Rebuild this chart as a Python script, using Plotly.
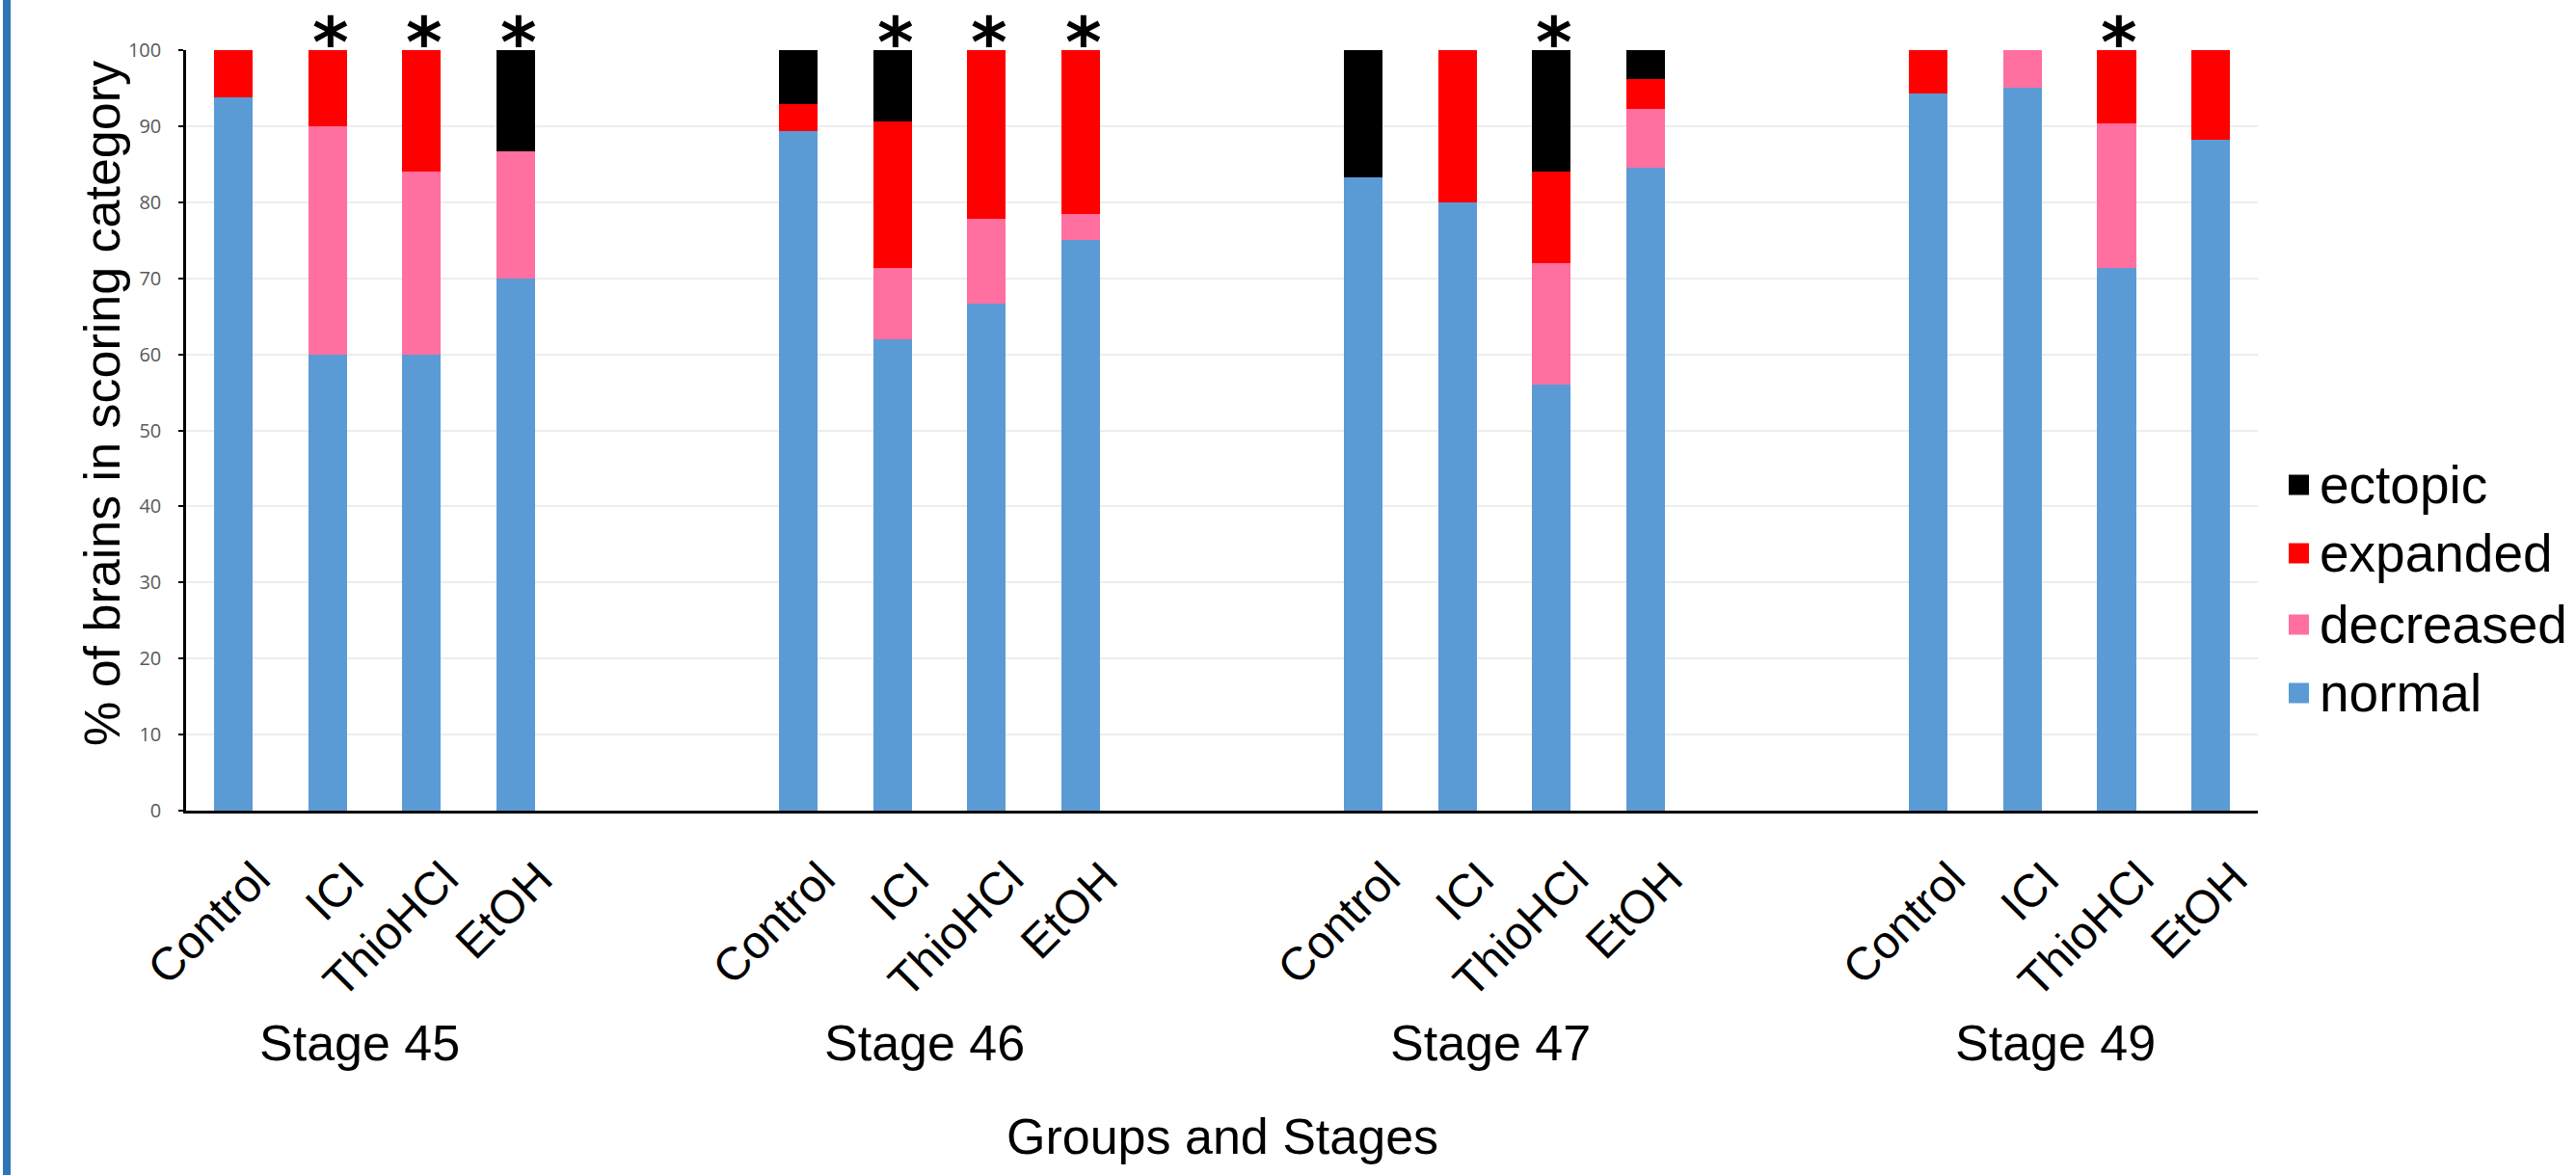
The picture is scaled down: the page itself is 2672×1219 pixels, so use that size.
import plotly.graph_objects as go

# ---- data -------------------------------------------------------------
stages = ["Stage 45", "Stage 46", "Stage 47", "Stage 49"]
groups = ["Control", "ICI", "ThioHCl", "EtOH"]

# percent of brains in each scoring category, per stage, in group order
normal = [
    [93.75, 60.0, 60.0, 70.0],
    [89.3, 62.0, 66.7, 75.0],
    [83.3, 80.0, 56.0, 84.6],
    [94.3, 95.0, 71.4, 88.2],
]
decreased = [
    [0.0, 30.0, 24.0, 16.7],
    [0.0, 9.4, 11.1, 3.5],
    [0.0, 0.0, 16.0, 7.7],
    [0.0, 5.0, 19.0, 0.0],
]
expanded = [
    [6.25, 10.0, 16.0, 0.0],
    [3.6, 19.2, 22.2, 21.5],
    [0.0, 20.0, 12.0, 3.85],
    [5.7, 0.0, 9.6, 11.8],
]
ectopic = [
    [0.0, 0.0, 0.0, 13.3],
    [7.1, 9.4, 0.0, 0.0],
    [16.7, 0.0, 16.0, 3.85],
    [0.0, 0.0, 0.0, 0.0],
]
# significance markers (asterisk above bar)
significant = [
    [False, True, True, True],
    [False, True, True, True],
    [False, False, True, False],
    [False, False, True, False],
]

series = [
    ("normal", normal, "#5B9BD5"),
    ("decreased", decreased, "#FF6FA0"),
    ("expanded", expanded, "#FF0000"),
    ("ectopic", ectopic, "#000000"),
]

# ---- geometry ---------------------------------------------------------
FIG_W, FIG_H = 2672, 1219
L, R, T, B = 193, 2342, 52, 841
PW, PH = R - L, B - T
SLOTS_PER_STAGE = len(groups) + 2  # two empty slots between stages


def px_x(px):
    return (px - L) / PW


def px_y(py):
    return (B - py) / PH


positions = []
labels = []
for si, st in enumerate(stages):
    for gi, g in enumerate(groups):
        positions.append(si * SLOTS_PER_STAGE + gi)
        labels.append(g)


def flat(table):
    return [v for row in table for v in row]


fig = go.Figure()
for name, table, color in series:
    fig.add_trace(go.Bar(
        x=positions, y=flat(table), name=name,
        marker=dict(color=color, line=dict(width=0)),
        width=0.41, showlegend=False,
    ))

annotations = []
# asterisks
for x, sig in zip(positions, flat(significant)):
    if sig:
        annotations.append(dict(
            x=x, y=px_y(0), xref="x", yref="paper", text="*", showarrow=False,
            font=dict(family="DejaVu Sans", size=72, color="black", weight=700),
            yanchor="top", xanchor="center", xshift=3,
        ))

# stage labels under each group
for si, st in enumerate(stages):
    cx = si * SLOTS_PER_STAGE + (len(groups) - 1) / 2
    annotations.append(dict(
        x=cx, y=px_y(1082), xref="x", yref="paper", text=st, showarrow=False,
        font=dict(family="Liberation Sans", size=52, color="black"),
        yanchor="middle", xanchor="center", xshift=-15,
    ))

# legend (top entry is the top of the stack)
legend_rows = [503, 574, 648, 719]
shapes = []
for (name, _, color), yc in zip(reversed(series), legend_rows):
    shapes.append(dict(
        type="rect", xref="paper", yref="paper",
        x0=px_x(2374), x1=px_x(2395), y0=px_y(yc + 10.5), y1=px_y(yc - 10.5),
        fillcolor=color, line=dict(width=0),
    ))
    annotations.append(dict(
        x=px_x(2404), y=px_y(yc), xref="paper", yref="paper", text=name,
        showarrow=False, xanchor="left", yanchor="middle",
        font=dict(family="Liberation Sans", size=55, color="black"),
    ))

# axis titles
annotations.append(dict(
    x=0.5, y=px_y(1179), xref="paper", yref="paper", text="Groups and Stages",
    showarrow=False, xanchor="center", yanchor="middle",
    font=dict(family="Liberation Sans", size=52, color="black"),
))
annotations.append(dict(
    x=px_x(106), y=px_y(419), xref="paper", yref="paper",
    text="% of brains in scoring category", textangle=-90,
    showarrow=False, xanchor="center", yanchor="middle",
    font=dict(family="Liberation Sans", size=52, color="black"),
))

# blue frame edge on the left
shapes.append(dict(
    type="rect", xref="paper", yref="paper",
    x0=px_x(3), x1=px_x(11), y0=px_y(FIG_H + 5), y1=px_y(-5),
    fillcolor="#2E75B6", line=dict(width=0), layer="above",
))

fig.update_layout(
    template="none",
    barmode="stack",
    width=FIG_W, height=FIG_H,
    margin=dict(l=L, r=FIG_W - R, t=T, b=FIG_H - B, autoexpand=False),
    paper_bgcolor="white", plot_bgcolor="white",
    font=dict(family="Liberation Sans", color="black"),
    annotations=annotations,
    shapes=shapes,
    showlegend=False,
)
fig.update_xaxes(
    range=[-0.5, len(stages) * SLOTS_PER_STAGE - 2.5],
    tickmode="array", tickvals=positions, ticktext=labels,
    tickangle=-45, ticks="", showgrid=False, zeroline=False,
    showline=True, linecolor="black", linewidth=3,
    tickfont=dict(family="Liberation Sans", size=48, color="black"),
    ticklabelstandoff=20, ticklabelshift=24,
    automargin=False,
)
fig.update_yaxes(
    range=[0, 100], dtick=10, tick0=0,
    ticks="outside", ticklen=5, tickwidth=2, tickcolor="black",
    showline=True, linecolor="black", linewidth=2.5,
    showgrid=True, gridcolor="#EDEDED", gridwidth=2, zeroline=False,
    tickfont=dict(family="Open Sans", size=20, color="#595959"),
    ticklabelstandoff=14,
    automargin=False,
)

fig.write_html("out.html")
